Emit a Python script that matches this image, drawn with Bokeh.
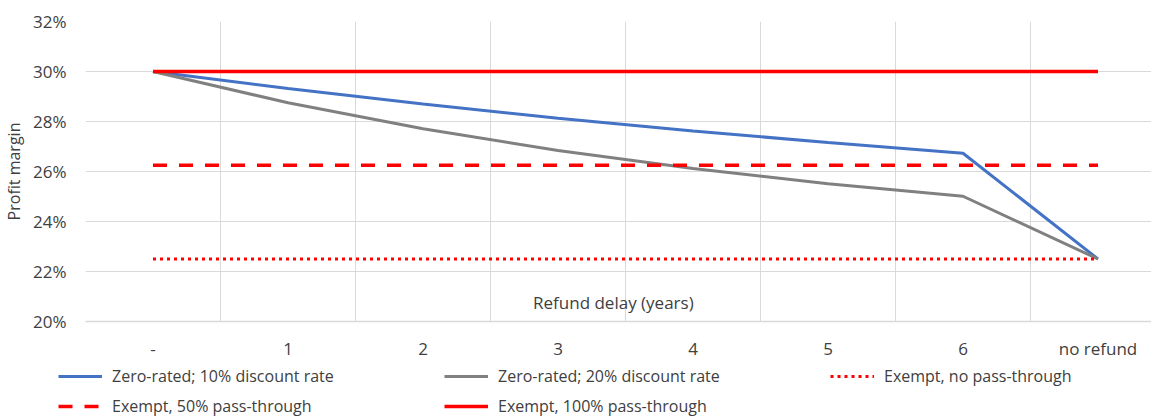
from bokeh.plotting import figure
from bokeh.layouts import column
from bokeh.models import Range1d, FixedTicker, PrintfTickFormatter, Legend, LegendItem, Label
from bokeh.embed import file_html
from bokeh.resources import INLINE

categories = ["-", "1", "2", "3", "4", "5", "6", "no refund"]
zero_10 = [30.0, 29.32, 28.70, 28.13, 27.62, 27.16, 26.73, 22.5]
zero_20 = [30.0, 28.75, 27.71, 26.84, 26.12, 25.51, 25.01, 22.5]
exempt_none = [22.5] * 8
exempt_50 = [26.25] * 8
exempt_100 = [30.0] * 8
y_ticks = [20, 22, 24, 26, 28, 30, 32]
series_names = ["Zero-rated; 10% discount rate", "Zero-rated; 20% discount rate",
                "Exempt, no pass-through", "Exempt, 50% pass-through",
                "Exempt, 100% pass-through"]

FONT = "Open Sans"
TXT = "#404040"
GRID = "#D9D9D9"
FS = "17px"

styles = [
    dict(line_color="#4472C4", line_width=3),
    dict(line_color="#808080", line_width=3),
    dict(line_color="#FF0000", line_width=3, line_dash="3 4"),
    dict(line_color="#FF0000", line_width=3.5, line_dash="14 12"),
    dict(line_color="#FF0000", line_width=3.5),
]
series = [zero_10, zero_20, exempt_none, exempt_50, exempt_100]

xs = list(range(len(categories)))

W = 1151
FL, FT, FB = 85, 21, 45
HM = FT + 300 + FB
HL = 417 - HM

p = figure(width=W, height=HM, output_backend="svg", toolbar_location=None,
           x_range=Range1d(-0.5, -0.5 + (W - FL) / 135), y_range=Range1d(20, 32),
           min_border_left=FL, min_border_top=FT, min_border_right=0, min_border_bottom=FB)
p.outline_line_color = None
p.frame_align = False

for ys, st in zip(series, styles):
    p.line(xs, ys, **st)

p.xaxis.ticker = FixedTicker(ticks=xs)
p.xaxis.major_label_overrides = {i: c for i, c in enumerate(categories)}
p.xaxis.major_tick_line_color = None
p.xaxis.minor_tick_line_color = None
p.xaxis.axis_line_color = GRID
p.xaxis.axis_line_width = 1.5
p.xaxis.major_label_standoff = 9
p.xaxis.major_label_text_font = FONT
p.xaxis.major_label_text_font_size = FS
p.xaxis.major_label_text_color = TXT

p.yaxis.ticker = FixedTicker(ticks=y_ticks)
p.yaxis.formatter = PrintfTickFormatter(format="%d%%")
p.yaxis.major_tick_line_color = None
p.yaxis.minor_tick_line_color = None
p.yaxis.axis_line_color = None
p.yaxis.major_label_standoff = 13
p.yaxis.major_label_text_font = FONT
p.yaxis.major_label_text_font_size = FS
p.yaxis.major_label_text_color = TXT
p.yaxis.axis_label = "Profit margin"
p.yaxis.axis_label_text_font = FONT
p.yaxis.axis_label_text_font_size = "16px"
p.yaxis.axis_label_text_font_style = "normal"
p.yaxis.axis_label_text_color = TXT
p.yaxis.axis_label_standoff = 5

p.xgrid.ticker = FixedTicker(ticks=[i - 0.5 for i in range(len(categories) + 1)])
p.xgrid.grid_line_color = GRID
p.ygrid.grid_line_color = GRID

p.add_layout(Label(x=3.41, y=20.76, text="Refund delay (years)", text_align="center",
                   text_baseline="middle", text_font=FONT, text_font_size=FS, text_color=TXT))

# legend strip (keys only; no data drawn)
nan = float("nan")
pl = figure(width=W, height=HL, output_backend="svg", toolbar_location=None,
            x_axis_type=None, y_axis_type=None, x_range=Range1d(0, 1), y_range=Range1d(0, 1),
            min_border=0)
pl.outline_line_color = None
pl.frame_align = False
key_renderers = [pl.line([nan], [nan], **st) for st in styles]

top_row = HL - 21
positions = [(58, top_row), (444, top_row), (830, top_row), (58, 0), (444, 0)]
for name, r, loc in zip(series_names, key_renderers, positions):
    pl.add_layout(Legend(items=[LegendItem(label=name, renderers=[r])], location=loc,
                         padding=0, margin=0, spacing=0, border_line_color=None,
                         background_fill_alpha=0, glyph_width=44, glyph_height=20,
                         label_height=20, label_standoff=10, label_text_font=FONT,
                         label_text_font_size="16px", label_text_color=TXT))

layout = column(p, pl, spacing=0)
open("out.html", "w").write(file_html(layout, INLINE))
